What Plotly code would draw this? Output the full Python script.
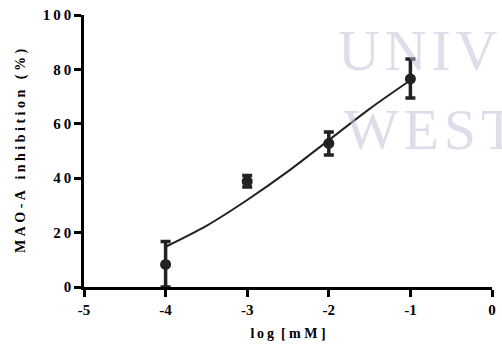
import plotly.graph_objects as go

# Measured data (log concentration, mean % inhibition, error bars)
log_conc = [-4, -3, -2, -1]
inhibition = [8.3, 38.8, 52.8, 76.5]
err_plus = [8.4, 2.2, 4.2, 7.3]
err_minus = [8.3, 2.0, 4.3, 7.0]

# Fitted curve
curve_x = [-4.0, -3.5, -3.0, -2.5, -2.0, -1.5, -1.0]
curve_y = [14.8, 22.5, 32.0, 42.5, 54.0, 65.5, 76.0]

x_ticks = [-5, -4, -3, -2, -1, 0]
y_ticks = [0, 20, 40, 60, 80, 100]


def spaced(s, sep="\u2009"):
    return sep.join(list(s))


FONT = "Liberation Serif, Times New Roman, serif"
INK = "#222222"

fig = go.Figure()
fig.add_trace(go.Scatter(
    x=curve_x, y=curve_y, mode="lines",
    line=dict(color=INK, width=2, shape="spline", smoothing=0.8),
    hoverinfo="skip", showlegend=False,
))
fig.add_trace(go.Scatter(
    x=log_conc, y=inhibition, mode="markers",
    marker=dict(color=INK, size=11, symbol="circle"),
    error_y=dict(type="data", array=err_plus, arrayminus=err_minus,
                 color=INK, thickness=3.5, width=5, visible=True),
    cliponaxis=False, showlegend=False,
))

# faint watermark
for txt, xx, yy in [("UNIV", 336, 50), ("WEST", 342, 129)]:
    fig.add_annotation(
        text=spaced(txt, "\u200a"), xref="paper", yref="paper",
        x=(xx - 84) / 408, y=(287 - yy) / 272,
        xanchor="left", yanchor="middle", showarrow=False,
        font=dict(family=FONT, size=58, color="rgba(190,190,215,0.5)"),
    )

fig.update_layout(
    width=502, height=353,
    margin=dict(l=84, r=10, t=15, b=66),
    paper_bgcolor="white", plot_bgcolor="white",
    font=dict(family=FONT, color="black"),
    xaxis=dict(
        range=[-5, 0], tickmode="array", tickvals=x_ticks,
        ticktext=[str(v) for v in x_ticks],
        showgrid=False, zeroline=False, showline=True, automargin=False,
        linecolor="black", linewidth=2.5,
        ticks="outside", ticklen=7, tickwidth=2.5, tickcolor="black",
        tickfont=dict(family=FONT, size=15, color="black", weight="bold"),
        title=dict(text="l\u2009o\u2009g\u00a0\u00a0[\u00a0m\u00a0M\u00a0]",
                   font=dict(family=FONT, size=14, color="black", weight="bold"),
                   standoff=12),
    ),
    yaxis=dict(
        range=[0, 100], tickmode="array", tickvals=y_ticks,
        ticktext=[spaced(str(v)) for v in y_ticks],
        showgrid=False, zeroline=False, showline=True, automargin=False,
        linecolor="black", linewidth=2.5,
        ticks="outside", ticklen=7, tickwidth=2.5, tickcolor="black",
        tickfont=dict(family=FONT, size=15, color="black", weight="bold"),
        title=dict(text="M\u00a0A\u00a0O\u00a0-\u00a0A\u00a0\u00a0\u00a0"
                        + "\u00a0".join("inhibition")
                        + "\u00a0\u00a0\u00a0(\u00a0%\u00a0)",
                   font=dict(family=FONT, size=14, color="black", weight="bold"),
                   standoff=14),
    ),
)

fig.write_html("out.html", config={"displayModeBar": False})

# remove the browser's default page margin so the figure sits at the top-left
with open("out.html", encoding="utf-8") as f:
    html = f.read()
html = html.replace("<head>", "<head><style>body{margin:0;padding:0;}</style>", 1)
with open("out.html", "w", encoding="utf-8") as f:
    f.write(html)
